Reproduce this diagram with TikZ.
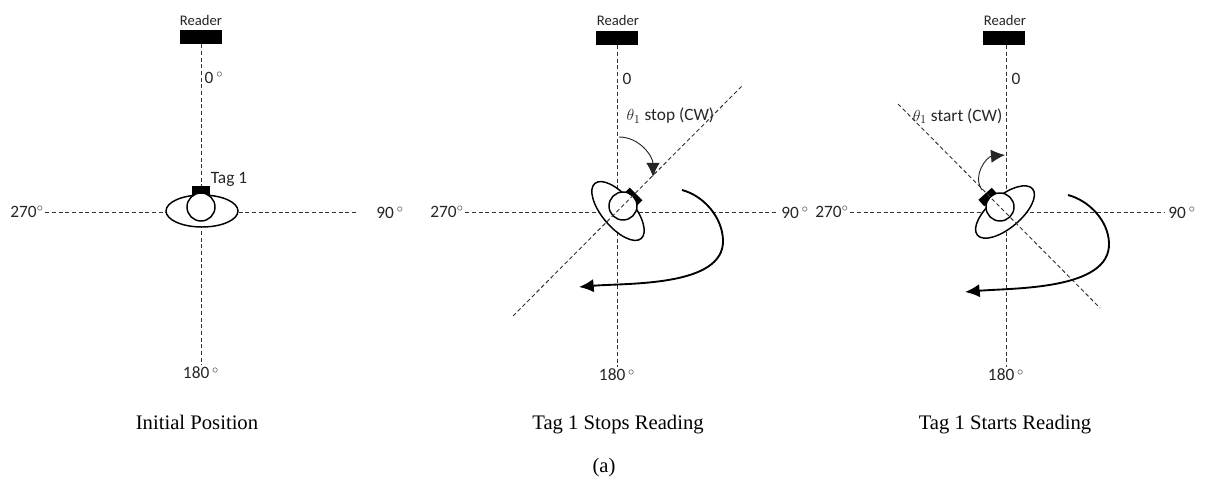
\documentclass[tikz,border=0pt]{standalone}
\usepackage{fontspec}
\setmainfont{Carlito}
\newfontfamily\capfont{Liberation Serif}
\usetikzlibrary{arrows.meta,shapes.geometric}

\begin{document}
\begin{tikzpicture}[x=0.75pt,y=-0.75pt,
    axisline/.style={dashed,black!80,line width=0.7pt,dash pattern=on 3pt off 2pt},
    readerbox/.style={fill=black,inner sep=0pt,minimum width=31.5pt,minimum height=10.5pt},
    tagbox/.style={fill=black,inner sep=0pt,minimum width=13.5pt,minimum height=6.5pt},
    body/.style={draw,fill=white,ellipse,line width=1.1pt,inner sep=0pt,minimum width=54pt,minimum height=24pt},
    hub/.style={draw,fill=white,circle,line width=1.1pt,inner sep=0pt,minimum size=21pt},
    lab/.style={inner sep=1pt,text=black!85,font=\fontsize{13}{15}\selectfont},
    readerlab/.style={inner sep=1pt,text=black!85,font=\fontsize{11}{13}\selectfont},
    caption/.style={inner sep=0pt,anchor=base,font=\capfont\fontsize{15.5}{18}\selectfont},
    spin/.style={line width=1.4pt,-{Latex[length=11pt,width=10pt]}},
    turn/.style={line width=0.7pt,black!85,-{Latex[length=10.5pt,width=10pt]}}]

   \useasboundingbox (0,0) rectangle (1209,488);
   \fill [white] (0,0) rectangle (1209,488);

   % initial position
   \node [readerlab] (readerA) at (201,20) {Reader};
   \node [readerbox] (boxA) at (201,37) {};
   \node [lab] (zeroA) at (214,78) {0\,$^\circ$};
   \node [lab] (leftA) at (27,212) {270$^\circ$};
   \node [lab] (rightA) at (390,213) {90\,$^\circ$};
   \node [lab] (bottomA) at (201,373) {180\,$^\circ$};
   \coordinate (endA) at (358,212);
   \draw [axisline] (boxA) -- (bottomA);
   \draw [axisline] (leftA) -- (endA);
   \node [body] (bodyA) at (202,211) {};
   \node [tagbox] (tagA) at (201,190.5) {};
   \node [hub] (hubA) at (201,207) {};
   \node [lab] (nameA) at (229,179) {Tag 1};
   \node [caption] (capA) at (197,429) {Initial Position};

   % tag 1 stops reading
   \node [readerlab] (readerB) at (618,20) {Reader};
   \node [readerbox] (boxB) at (617,38) {};
   \node [lab] (zeroB) at (627,79) {0};
   \node [lab] (leftB) at (447,212) {270$^\circ$};
   \node [lab] (rightB) at (795,213) {90\,$^\circ$};
   \node [lab] (bottomB) at (617,375) {180\,$^\circ$};
   \coordinate (endB) at (778,212);
   \draw [axisline] (boxB) -- (bottomB);
   \draw [axisline] (leftB) -- (endB);
   \node [body,rotate=-50] (bodyB) at (618,211) {};
   \node [tagbox,rotate=-45] (tagB) at (633,197) {};
   \node [hub] (hubB) at (623,206) {};
   \coordinate (lineB1) at (513,316);
   \coordinate (lineB2) at (742,86);
   \draw [axisline] (lineB1) -- (lineB2);
   \node [lab,anchor=west] (angleB) at (625,116) {$\theta_1$ stop (CW)};
   \coordinate (turnB1) at (619,137);
   \coordinate (turnB2) at (653,177);
   \draw [turn] (turnB1) to[out=0,in=90] (turnB2);
   \coordinate (spinB1) at (682,190);
   \coordinate (spinB2) at (723,240);
   \coordinate (spinB3) at (579,287);
   \draw [spin] (spinB1) to[out=-15,in=92,looseness=0.9] (spinB2) to[out=-88,in=5,looseness=0.8] (spinB3);
   \node [caption] (capB) at (618,429) {Tag 1 Stops Reading};

   % tag 1 starts reading
   \node [readerlab] (readerC) at (1005,20) {Reader};
   \node [readerbox] (boxC) at (1004,38) {};
   \node [lab] (zeroC) at (1016,79) {0};
   \node [lab] (leftC) at (832,212) {270$^\circ$};
   \node [lab] (rightC) at (1182,213) {90\,$^\circ$};
   \node [lab] (bottomC) at (1006,375) {180\,$^\circ$};
   \coordinate (topC) at (1006,45);
   \coordinate (endC) at (1165,212);
   \draw [axisline] (topC) -- (bottomC);
   \draw [axisline] (leftC) -- (endC);
   \node [body,rotate=40] (bodyC) at (1005,212) {};
   \node [tagbox,rotate=42] (tagC) at (988,197) {};
   \node [hub] (hubC) at (1000,207) {};
   \coordinate (lineC1) at (898,104);
   \coordinate (lineC2) at (1100,308);
   \draw [axisline] (lineC1) -- (lineC2);
   \node [lab,anchor=east] (angleC) at (1004,116) {$\theta_1$ start (CW)};
   \coordinate (turnC1) at (982,190);
   \coordinate (turnC2) at (1005,155);
   \draw [turn] (turnC1) to[out=125,in=185,looseness=1.1] (turnC2);
   \coordinate (spinC1) at (1068,195);
   \coordinate (spinC2) at (1109,243);
   \coordinate (spinC3) at (965,292);
   \draw [spin] (spinC1) to[out=-15,in=92,looseness=0.9] (spinC2) to[out=-88,in=5,looseness=0.8] (spinC3);
   \node [caption] (capC) at (1005,429) {Tag 1 Starts Reading};

   \node [caption] (capAll) at (604,472) {(a)};

\end{tikzpicture}
\end{document}
